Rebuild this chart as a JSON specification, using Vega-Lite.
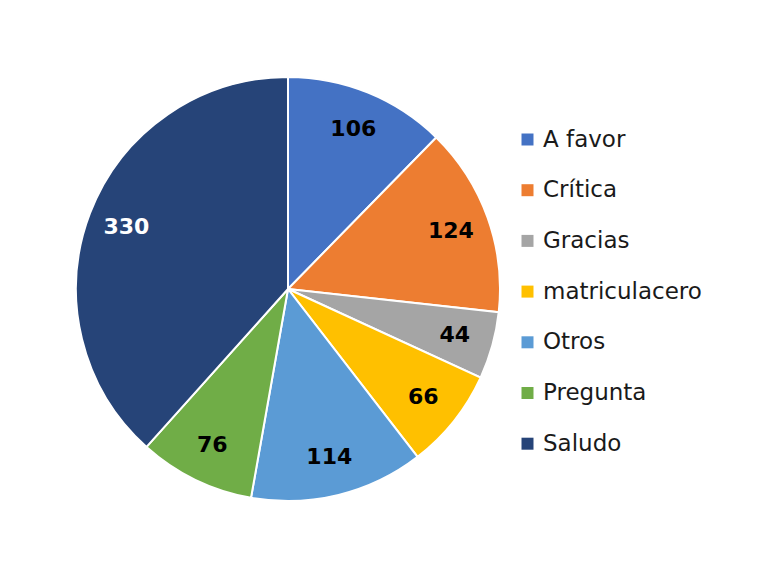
{
  "$schema": "https://vega.github.io/schema/vega-lite/v6.json",
  "width": 576,
  "height": 578,
  "padding": 0,
  "autosize": {"type": "pad"},
  "background": "white",
  "config": {"view": {"stroke": null}},
  "data": {
    "values": [
      {"idx": 1, "category": "A favor", "value": 106},
      {"idx": 2, "category": "Crítica", "value": 124},
      {"idx": 3, "category": "Gracias", "value": 44},
      {"idx": 4, "category": "matriculacero", "value": 66},
      {"idx": 5, "category": "Otros", "value": 114},
      {"idx": 6, "category": "Pregunta", "value": 76},
      {"idx": 7, "category": "Saludo", "value": 330}
    ]
  },
  "encoding": {
    "theta": {"field": "value", "type": "quantitative", "stack": true},
    "order": {"field": "idx", "type": "quantitative"}
  },
  "layer": [
    {
      "mark": {"type": "arc", "outerRadius": 212, "stroke": "white", "strokeWidth": 2},
      "encoding": {
        "color": {
          "field": "category",
          "type": "nominal",
          "scale": {
            "domain": ["A favor", "Crítica", "Gracias", "matriculacero", "Otros", "Pregunta", "Saludo"],
            "range": ["#4472C4", "#ED7D31", "#A5A5A5", "#FFC000", "#5B9BD5", "#70AD47", "#264478"]
          },
          "legend": {
            "title": null,
            "orient": "none",
            "legendX": 516,
            "legendY": 128,
            "padding": 0,
            "symbolType": "square",
            "symbolSize": 144,
            "symbolStrokeWidth": 0,
            "labelFont": "DejaVu Sans",
            "labelFontSize": 23,
            "labelColor": "#1a1a1a",
            "labelOffset": 4,
            "rowPadding": 26.7,
            "labelLimit": 300
          }
        }
      }
    },
    {
      "mark": {"type": "text", "radius": 173, "font": "DejaVu Sans", "fontWeight": "bold", "fontSize": 22, "baseline": "middle", "align": "center"},
      "encoding": {
        "text": {"field": "value", "type": "quantitative"},
        "color": {
          "condition": {"test": "datum.category === 'Saludo'", "value": "white"},
          "value": "black"
        }
      }
    }
  ]
}
